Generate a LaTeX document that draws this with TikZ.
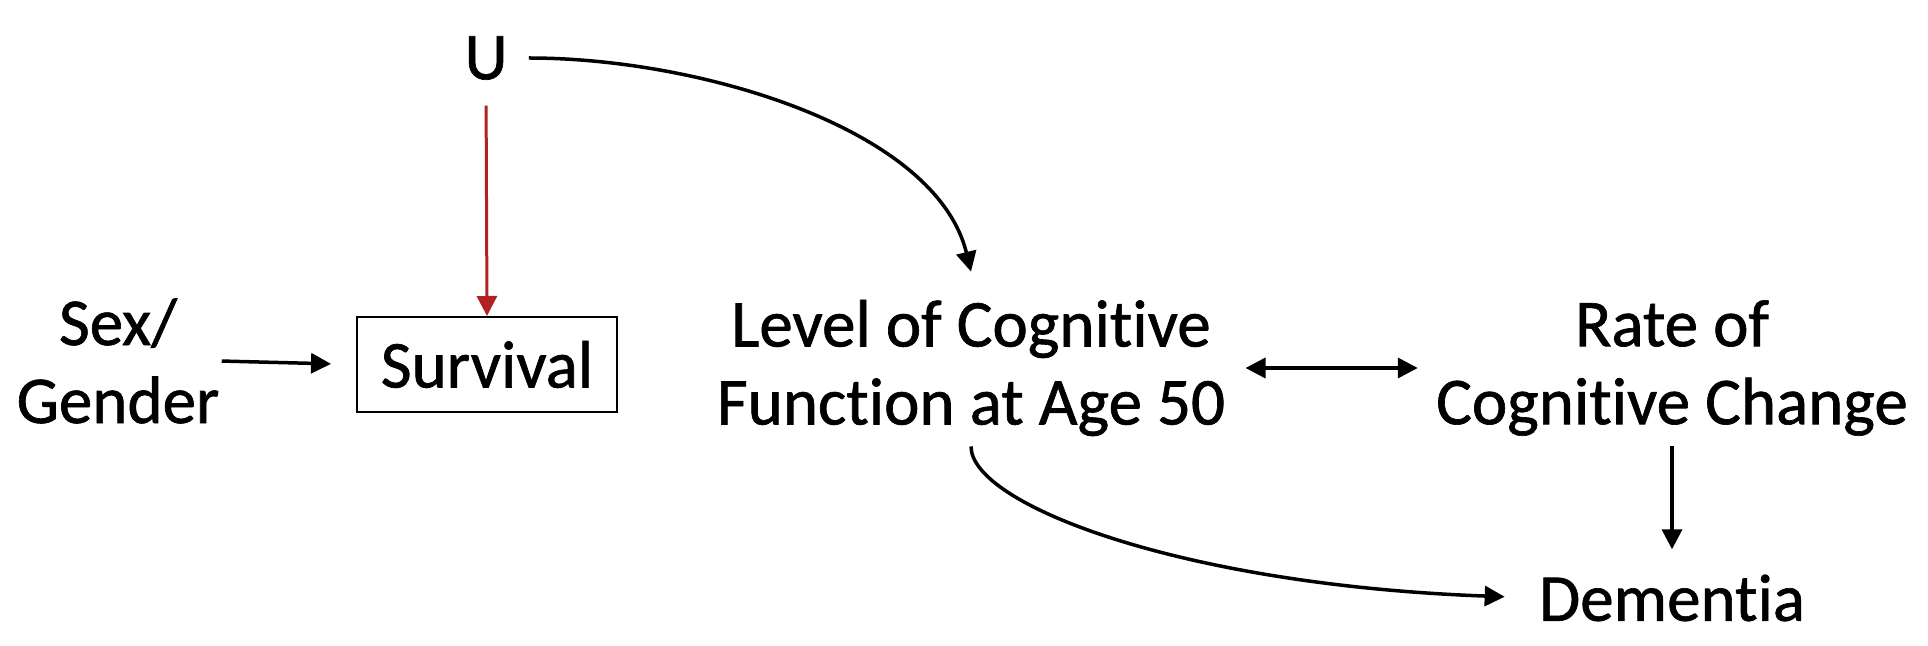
\documentclass[tikz,border=0pt]{standalone}
\usepackage{fontspec}
\setmainfont{Carlito}[Ligatures={NoCommon},FakeBold=1]
\usetikzlibrary{arrows.meta}
\definecolor{redarrow}{RGB}{178,34,34}
\begin{document}
\begin{tikzpicture}[x=0.5pt,y=-0.5pt,
  lbl/.style={inner sep=0pt, align=center, font=\fontsize{33.5pt}{39pt}\selectfont},
  boxed/.style={lbl, draw, line width=1pt, minimum width=130pt, minimum height=47.5pt},
  arr/.style={line width=1.75pt, -{Triangle[length=10pt,width=10pt]}},
  dbl/.style={line width=1.75pt, {Triangle[length=10pt,width=10pt]}-{Triangle[length=10pt,width=10pt]}},
  redarr/.style={line width=1.5pt, draw=redarrow, -{Triangle[length=10pt,width=10pt,fill=redarrow]}}]
\useasboundingbox (0,0) rectangle (1928,646);
\node[lbl] (U) at (486,58) {U};
\node[boxed] (S) at (487,364.5) {Survival};
\node[lbl] (G) at (118,361) {Sex/\\Gender};
\node[lbl] (L) at (971,368) {Level of Cognitive\\Function at Age 50};
\node[lbl] (R) at (1672,368) {Rate of\\Cognitive Change};
\node[lbl] (D) at (1672,598) {Dementia};
\draw[redarr, shorten <=12.75pt] (U.south) -- (S.north);
\draw[arr, shorten <=1pt, shorten >=12.5pt] (G.east) -- (S.west);
\draw[arr] ([xshift=10.5pt]U.east) .. controls +(171,0) and +(-35,-143) .. ([yshift=14pt]L.north);
\draw[dbl, shorten <=10pt, shorten >=9pt] (L.east) -- (R.west);
\draw[arr, shorten <=5pt, shorten >=12.5pt] (R.south) -- (D.north);
\draw[arr, shorten >=17pt] ([yshift=-5pt]L.south) .. controls +(0,58) and +(-358,-13) .. (D.west);
\end{tikzpicture}
\end{document}
